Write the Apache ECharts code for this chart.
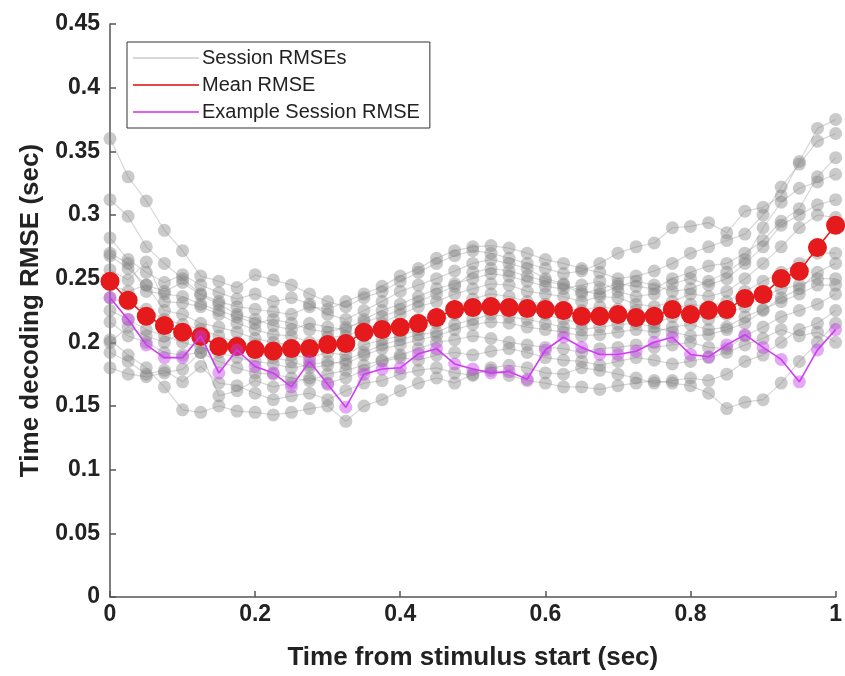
<!DOCTYPE html>
<html>
<head>
<meta charset="utf-8">
<script src="https://cdn.jsdelivr.net/npm/echarts@6/dist/echarts.min.js"></script>
<style>html,body{margin:0;padding:0;background:#fff;}#c{width:845px;height:676px;}</style>
</head>
<body>
<div id="c"></div>
<script>
const times = [0,0.025,0.05,0.075,0.1,0.125,0.15,0.175,0.2,0.225,0.25,0.275,0.3,0.325,0.35,0.375,0.4,0.425,0.45,0.475,0.5,0.525,0.55,0.575,0.6,0.625,0.65,0.675,0.7,0.725,0.75,0.775,0.8,0.825,0.85,0.875,0.9,0.925,0.95,0.975,1];

const meanRMSE = [0.248,0.233,0.2205,0.2132,0.208,0.2046,0.1968,0.1968,0.1944,0.1931,0.1952,0.1952,0.1983,0.1991,0.208,0.2101,0.2119,0.2148,0.2195,0.2258,0.2273,0.2281,0.2273,0.2266,0.2258,0.225,0.2205,0.2205,0.2219,0.2195,0.2205,0.2258,0.2219,0.2252,0.2258,0.2344,0.2375,0.2501,0.2558,0.2744,0.2919];

const exampleRMSE = [0.235,0.218,0.198,0.188,0.188,0.205,0.176,0.194,0.181,0.176,0.165,0.185,0.167,0.149,0.175,0.179,0.180,0.191,0.195,0.183,0.179,0.176,0.177,0.171,0.194,0.204,0.196,0.1905,0.1905,0.193,0.200,0.204,0.1905,0.1887,0.198,0.206,0.196,0.1866,0.169,0.194,0.210];

const session01 = [0.360,0.330,0.311,0.288,0.272,0.252,0.248,0.243,0.253,0.249,0.245,0.238,0.232,0.228,0.235,0.240,0.248,0.255,0.262,0.268,0.272,0.270,0.266,0.262,0.258,0.254,0.256,0.262,0.270,0.275,0.278,0.290,0.291,0.294,0.286,0.303,0.306,0.315,0.342,0.368,0.375];
const session02 = [0.312,0.299,0.275,0.262,0.250,0.238,0.232,0.228,0.226,0.224,0.222,0.228,0.226,0.232,0.238,0.244,0.252,0.258,0.266,0.272,0.275,0.276,0.274,0.270,0.265,0.262,0.258,0.255,0.250,0.252,0.256,0.262,0.270,0.275,0.280,0.285,0.300,0.322,0.340,0.358,0.364];
const session03 = [0.282,0.265,0.255,0.247,0.253,0.245,0.239,0.234,0.238,0.232,0.235,0.230,0.222,0.218,0.225,0.232,0.240,0.245,0.250,0.256,0.262,0.265,0.262,0.258,0.250,0.246,0.240,0.238,0.244,0.248,0.245,0.240,0.242,0.248,0.255,0.265,0.290,0.310,0.321,0.326,0.332];
const session04 = [0.268,0.258,0.245,0.240,0.247,0.237,0.230,0.222,0.218,0.213,0.210,0.215,0.212,0.210,0.218,0.225,0.230,0.236,0.242,0.246,0.250,0.254,0.252,0.248,0.244,0.242,0.245,0.248,0.240,0.236,0.238,0.246,0.250,0.245,0.250,0.262,0.275,0.292,0.300,0.308,0.312];
const session05 = [0.257,0.249,0.263,0.232,0.231,0.228,0.222,0.215,0.210,0.206,0.205,0.200,0.204,0.205,0.210,0.215,0.222,0.228,0.232,0.238,0.242,0.246,0.245,0.240,0.238,0.236,0.232,0.236,0.235,0.230,0.228,0.232,0.238,0.236,0.240,0.250,0.262,0.275,0.290,0.300,0.298];
const session06 = [0.245,0.240,0.245,0.225,0.222,0.215,0.212,0.208,0.203,0.200,0.198,0.195,0.200,0.198,0.205,0.208,0.214,0.218,0.222,0.228,0.234,0.238,0.236,0.232,0.230,0.226,0.225,0.228,0.226,0.225,0.222,0.226,0.230,0.228,0.232,0.240,0.248,0.255,0.262,0.270,0.270];
const session07 = [0.235,0.230,0.226,0.218,0.214,0.210,0.205,0.200,0.198,0.192,0.190,0.188,0.192,0.190,0.198,0.202,0.205,0.210,0.215,0.222,0.226,0.230,0.228,0.225,0.222,0.218,0.215,0.218,0.220,0.218,0.215,0.220,0.222,0.218,0.222,0.228,0.236,0.242,0.245,0.250,0.250];
const session08 = [0.225,0.218,0.210,0.205,0.200,0.196,0.192,0.188,0.185,0.183,0.180,0.182,0.185,0.183,0.190,0.195,0.198,0.202,0.205,0.210,0.214,0.216,0.215,0.212,0.210,0.208,0.205,0.206,0.208,0.210,0.208,0.212,0.214,0.210,0.212,0.220,0.226,0.232,0.238,0.245,0.245];
const session09 = [0.216,0.205,0.200,0.192,0.190,0.192,0.185,0.180,0.176,0.175,0.172,0.170,0.175,0.178,0.182,0.186,0.190,0.195,0.200,0.202,0.205,0.203,0.200,0.198,0.196,0.195,0.192,0.195,0.196,0.198,0.196,0.198,0.200,0.196,0.195,0.205,0.212,0.220,0.225,0.230,0.238];
const session10 = [0.202,0.190,0.180,0.165,0.147,0.145,0.150,0.146,0.145,0.143,0.145,0.148,0.150,0.138,0.150,0.155,0.162,0.168,0.172,0.168,0.175,0.178,0.174,0.170,0.168,0.165,0.165,0.163,0.166,0.168,0.170,0.168,0.166,0.160,0.148,0.153,0.155,0.168,0.185,0.200,0.215];
const session11 = [0.192,0.185,0.175,0.178,0.169,0.181,0.168,0.166,0.160,0.155,0.158,0.160,0.155,0.162,0.168,0.170,0.175,0.178,0.180,0.176,0.174,0.180,0.182,0.180,0.176,0.175,0.180,0.178,0.175,0.172,0.168,0.170,0.172,0.170,0.175,0.185,0.190,0.200,0.210,0.215,0.225];
const session12 = [0.180,0.175,0.173,0.176,0.179,0.192,0.158,0.162,0.170,0.165,0.168,0.172,0.168,0.172,0.178,0.185,0.188,0.186,0.190,0.192,0.190,0.193,0.195,0.192,0.188,0.186,0.185,0.182,0.185,0.188,0.186,0.183,0.185,0.188,0.192,0.198,0.203,0.210,0.205,0.208,0.200];
const session13 = [0.200,0.212,0.205,0.200,0.208,0.205,0.198,0.195,0.192,0.188,0.185,0.180,0.182,0.186,0.192,0.198,0.202,0.206,0.208,0.214,0.218,0.222,0.220,0.218,0.215,0.212,0.210,0.212,0.214,0.215,0.212,0.208,0.205,0.206,0.210,0.215,0.225,0.235,0.242,0.255,0.262];
const session14 = [0.270,0.262,0.240,0.238,0.236,0.230,0.225,0.220,0.215,0.218,0.215,0.210,0.208,0.212,0.216,0.220,0.226,0.232,0.238,0.244,0.255,0.258,0.256,0.252,0.248,0.245,0.238,0.242,0.246,0.244,0.242,0.250,0.255,0.260,0.262,0.270,0.280,0.295,0.305,0.330,0.345];

const sessions = [session01,session02,session03,session04,session05,session06,session07,session08,session09,session10,session11,session12,session13,session14];

const xTicks = [0,0.2,0.4,0.6,0.8,1];
const yTicks = [0,0.05,0.1,0.15,0.2,0.25,0.3,0.35,0.4,0.45];

const FONT = '"Liberation Sans", Arial, sans-serif';
const zip = v => times.map((t,i)=>[t,v[i]]);

const series = [];
sessions.forEach(s => {
  series.push({
    name: 'Session RMSEs', type: 'line', data: zip(s), clip: false,
    symbol: 'circle', symbolSize: 13,
    itemStyle: { color: '#808080', opacity: 0.42 },
    lineStyle: { color: '#9a9a9a', width: 1.2, opacity: 0.4 },
    silent: true, animation: false, z: 2
  });
});
series.push({
  name: 'Mean RMSE', type: 'line', data: zip(meanRMSE), clip: false,
  symbol: 'circle', symbolSize: 19,
  itemStyle: { color: '#e41a1c', opacity: 1 },
  lineStyle: { color: '#e41a1c', width: 1.5 },
  animation: false, z: 3
});
series.push({
  name: 'Example Session RMSE', type: 'line', data: zip(exampleRMSE), clip: false,
  symbol: 'circle', symbolSize: 13,
  itemStyle: { color: '#c43ee8', opacity: 0.45 },
  lineStyle: { color: '#d23cf5', width: 1.6 },
  animation: false, z: 4
});

const chart = echarts.init(document.getElementById('c'), null, {renderer:'canvas'});
chart.setOption({
  backgroundColor: '#fff',
  animation: false,
  grid: { left: 110, right: 3, top: 24, bottom: 78, containLabel: false },
  legend: {
    left: 127, top: 42, orient: 'vertical',
    icon: 'rect', itemWidth: 66, itemHeight: 2, itemGap: 7,
    padding: [6, 10, 6, 6],
    borderColor: '#333', borderWidth: 1, backgroundColor: '#fff',
    textStyle: { fontFamily: FONT, fontSize: 20, color: '#222', padding: [0,0,0,-2] },
    data: [
      { name: 'Session RMSEs', itemStyle: { color: '#d9d9d9', opacity: 1 } },
      { name: 'Mean RMSE', itemStyle: { color: '#e8474a', opacity: 1 } },
      { name: 'Example Session RMSE', itemStyle: { color: '#e25cf7', opacity: 1 } }
    ]
  },
  xAxis: {
    type: 'value', min: xTicks[0], max: xTicks[xTicks.length-1], interval: 0.2,
    name: 'Time from stimulus start (sec)', nameLocation: 'middle', nameGap: 48,
    nameTextStyle: { fontFamily: FONT, fontSize: 26, fontWeight: 'bold', color: '#222' },
    axisLine: { lineStyle: { color: '#555', width: 1.5 } },
    axisTick: { inside: true, length: 6, lineStyle: { color: '#555', width: 1.5 } },
    axisLabel: { fontFamily: FONT, fontSize: 23, fontWeight: 'bold', color: '#222', margin: 6 },
    splitLine: { show: false }
  },
  yAxis: {
    type: 'value', min: yTicks[0], max: yTicks[yTicks.length-1], interval: 0.05,
    name: 'Time decoding RMSE (sec)', nameLocation: 'middle', nameGap: 66,
    nameTextStyle: { fontFamily: FONT, fontSize: 26, fontWeight: 'bold', color: '#222' },
    axisLine: { show: true, lineStyle: { color: '#555', width: 1.5 } },
    axisTick: { show: true, inside: true, length: 6, lineStyle: { color: '#555', width: 1.5 } },
    axisLabel: { fontFamily: FONT, fontSize: 23, fontWeight: 'bold', color: '#222', margin: 10 },
    splitLine: { show: false }
  },
  series: series
});
</script>
</body>
</html>
